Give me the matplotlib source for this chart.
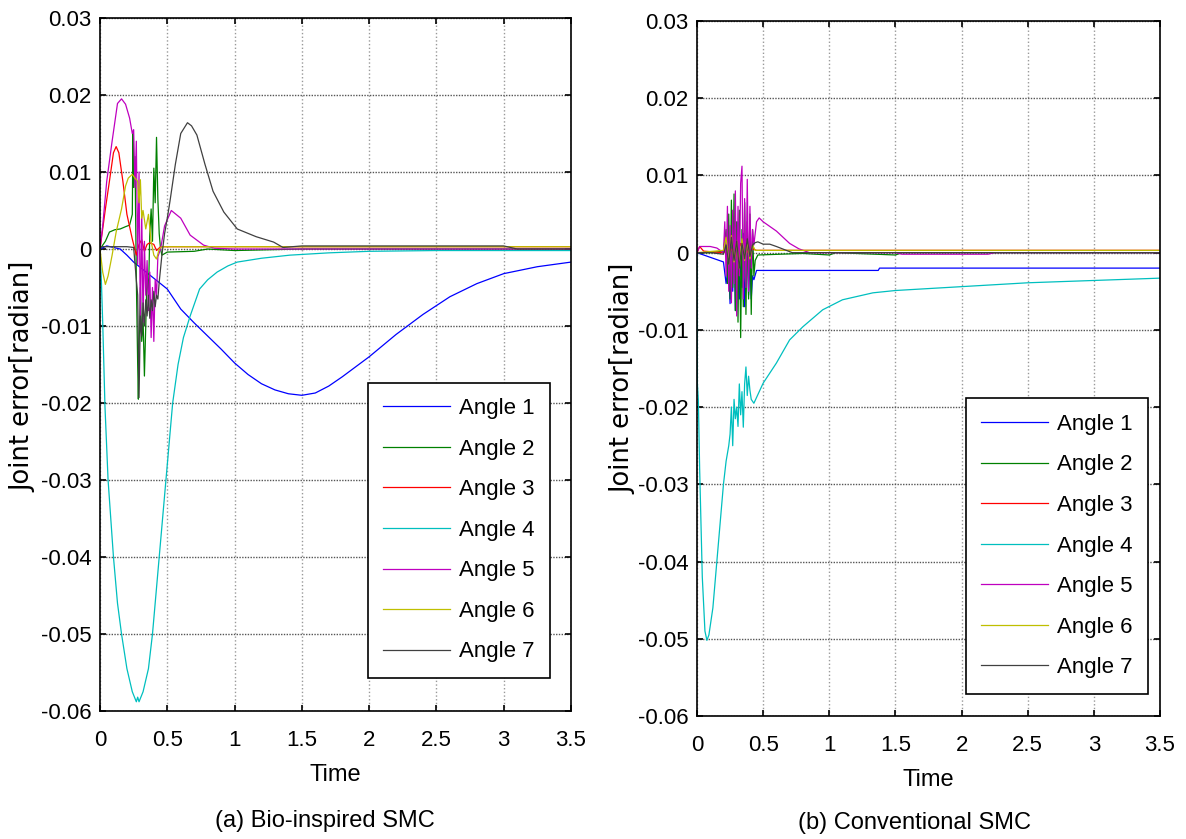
import matplotlib
matplotlib.use("Agg")
import matplotlib.pyplot as plt

plt.rcParams['font.family'] = ['Liberation Sans', 'DejaVu Sans']
plt.rcParams['axes.unicode_minus'] = False

labels = ['Angle 1', 'Angle 2', 'Angle 3', 'Angle 4', 'Angle 5', 'Angle 6', 'Angle 7']
colors = ['#0000ff', '#008000', '#ff0000', '#00bfbf', '#bf00bf', '#bfbf00', '#404040']

xticks = [0, 0.5, 1, 1.5, 2, 2.5, 3, 3.5]
xticklabels = ['0', '0.5', '1', '1.5', '2', '2.5', '3', '3.5']
yticks = [0.03, 0.02, 0.01, 0, -0.01, -0.02, -0.03, -0.04, -0.05, -0.06]
yticklabels = ['0.03', '0.02', '0.01', '0', '-0.01', '-0.02', '-0.03', '-0.04', '-0.05', '-0.06']

# ---- (a) Bio-inspired SMC ----
a1_t = [0, 0.05, 0.1, 0.15, 0.2, 0.25, 0.3, 0.4, 0.5, 0.6, 0.7, 0.8, 0.9, 1.0, 1.1, 1.2, 1.3, 1.4,
        1.5, 1.6, 1.7, 1.8, 1.9, 2.0, 2.2, 2.4, 2.6, 2.8, 3.0, 3.25, 3.5]
a1_v = [0, 0.0004, 0.0002, 0.0, -0.0008, -0.0017, -0.0024, -0.0038, -0.0052, -0.0078, -0.0096,
        -0.0113, -0.0130, -0.0148, -0.0163, -0.0175, -0.0183, -0.0188, -0.0190, -0.0187, -0.0178,
        -0.0166, -0.0153, -0.0140, -0.0111, -0.0085, -0.0062, -0.0045, -0.0032, -0.0023, -0.0017]

a2_t = [0, 0.04, 0.07, 0.11, 0.15, 0.19, 0.22, 0.24, 0.245, 0.25, 0.26, 0.27, 0.28, 0.285, 0.29,
        0.30, 0.31, 0.32, 0.33, 0.34, 0.35, 0.36, 0.37, 0.38, 0.39, 0.40, 0.41, 0.42, 0.43, 0.44,
        0.45, 0.46, 0.5, 0.7, 0.8, 1.0, 1.5, 2.0, 3.5]
a2_v = [0, 0.0010, 0.0022, 0.0025, 0.0026, 0.0029, 0.0031, 0.0045, 0.0153, 0.0080, 0.0120, -0.0040,
        -0.0150, -0.0195, -0.0130, -0.0050, -0.0120, -0.0090, -0.0165, -0.0100, -0.0030, -0.0060,
        0.0020, 0.0052, 0.0010, 0.0105, 0.0060, 0.0145, 0.0065, 0.0020, 0.0, -0.0008, -0.0004,
        -0.0003, 0.0, -0.0002, 0.0, 0.0, 0.0]

a3_t = [0, 0.01, 0.04, 0.07, 0.1, 0.12, 0.14, 0.17, 0.2, 0.24, 0.27, 0.29, 0.31, 0.33, 0.35, 0.37,
        0.4, 0.42, 0.45, 0.5, 1.0, 2.0, 3.5]
a3_v = [0, 0.0013, 0.0052, 0.0088, 0.0125, 0.0133, 0.0125, 0.0088, 0.0045, 0.0013, -0.0008, 0.0006,
        0.0012, -0.0003, 0.0006, 0.0008, 0.0006, -0.0002, 0.0003, 0.0003, 0.0003, 0.0003, 0.0003]

a4_t = [0, 0.01, 0.02, 0.037, 0.06, 0.1, 0.13, 0.16, 0.2, 0.24, 0.27, 0.28, 0.29, 0.32, 0.36, 0.39,
        0.44, 0.49, 0.54, 0.58, 0.62, 0.67, 0.74, 0.8, 0.87, 0.95, 1.02, 1.2, 1.41, 1.7, 2.0, 2.5,
        3.0, 3.5]
a4_v = [0, -0.004, -0.0095, -0.0205, -0.030, -0.040, -0.046, -0.050, -0.0545, -0.0575, -0.0588,
        -0.0582, -0.0588, -0.0575, -0.0545, -0.050, -0.040, -0.030, -0.020, -0.0150, -0.0115,
        -0.0087, -0.0052, -0.0040, -0.0030, -0.0022, -0.0017, -0.0012, -0.0008, -0.0005, -0.0003,
        -0.0002, -0.0002, -0.0002]

a5_t = [0, 0.02, 0.05, 0.09, 0.13, 0.16, 0.19, 0.22, 0.24, 0.25, 0.26, 0.27, 0.28, 0.29, 0.30,
        0.31, 0.32, 0.33, 0.34, 0.35, 0.36, 0.37, 0.38, 0.39, 0.40, 0.41, 0.42, 0.43, 0.45, 0.48,
        0.53, 0.6, 0.67, 0.77, 0.85, 1.0, 3.5]
a5_v = [0, 0.003, 0.0088, 0.014, 0.0189, 0.0195, 0.0188, 0.0170, 0.0150, 0.0155, 0.0080, 0.0140,
        -0.0020, 0.0100, -0.0105, 0.0050, -0.0095, 0.0010, -0.0060, -0.0015, -0.0080, -0.0030,
        -0.0115, -0.0050, -0.0120, -0.0040, -0.0060, -0.0010, 0.0, 0.0030, 0.0050, 0.0040,
        0.0018, 0.0005, 0.0001, 0.0, 0.0]

a6_t = [0, 0.02, 0.04, 0.06, 0.09, 0.12, 0.16, 0.19, 0.21, 0.24, 0.26, 0.28, 0.29, 0.30, 0.31,
        0.32, 0.34, 0.36, 0.38, 0.40, 0.42, 0.44, 0.46, 0.5, 3.5]
a6_v = [0, -0.003, -0.0046, -0.0035, -0.0008, 0.0022, 0.0052, 0.0082, 0.0092, 0.0097, 0.0092,
        0.0088, 0.0060, 0.0090, 0.0040, 0.0050, 0.0026, 0.0045, 0.0010, -0.0008, -0.0013, 0.0,
        0.0003, 0.0003, 0.0003]

a7_t = [0, 0.1, 0.2, 0.25, 0.27, 0.28, 0.29, 0.30, 0.31, 0.32, 0.33, 0.34, 0.35, 0.36, 0.37, 0.38,
        0.39, 0.40, 0.41, 0.42, 0.43, 0.44, 0.46, 0.48, 0.5, 0.52, 0.56, 0.6, 0.65, 0.68, 0.72,
        0.78, 0.84, 0.92, 1.02, 1.16, 1.29, 1.36, 1.5, 2.0, 2.5, 3.0, 3.1, 3.5]
a7_v = [0.0003, 0.0003, 0.0003, 0.0002, -0.0040, -0.0060, -0.0193, -0.0087, -0.0113, -0.0070,
        -0.0100, -0.0066, -0.0087, -0.0060, -0.0090, -0.0066, -0.0080, -0.0055, -0.0075, -0.0060,
        -0.0065, -0.0043, -0.0008, 0.0020, 0.0040, 0.0062, 0.0110, 0.0150, 0.0164, 0.0160, 0.0148,
        0.0110, 0.0075, 0.0048, 0.0026, 0.0016, 0.0009, 0.0002, 0.0004, 0.0004, 0.0004, 0.0004,
        0.0, 0.0]

# ---- (b) Conventional SMC ----
b1_t = [0, 0.05, 0.1, 0.15, 0.2, 0.22, 0.24, 0.25, 0.26, 0.27, 0.28, 0.29, 0.30, 0.31, 0.32, 0.33,
        0.34, 0.35, 0.36, 0.37, 0.38, 0.39, 0.40, 0.41, 0.42, 0.43, 0.45, 0.6, 1.0, 1.37, 1.38, 2.0,
        3.5]
b1_v = [0, -0.0003, -0.0006, -0.0009, -0.0012, -0.0040, -0.0015, -0.0066, 0.0010, -0.0050, 0.0030,
        -0.0075, -0.0010, 0.0040, -0.0060, 0.0000, -0.0045, 0.0025, -0.0070, -0.0020, 0.0015,
        -0.0055, -0.0010, -0.0060, -0.0030, -0.0035, -0.0023, -0.0023, -0.0023, -0.0023, -0.0020,
        -0.0020, -0.0020]

b2_t = [0, 0.1, 0.2, 0.22, 0.23, 0.24, 0.25, 0.26, 0.27, 0.28, 0.29, 0.30, 0.31, 0.32, 0.33, 0.34,
        0.35, 0.36, 0.37, 0.38, 0.39, 0.40, 0.41, 0.42, 0.43, 0.44, 0.46, 0.8, 1.0, 1.05, 1.5, 1.55,
        2.0, 3.5]
b2_v = [0, 0, 0.0002, 0.0030, -0.0040, 0.0050, -0.0060, 0.0068, -0.0045, 0.0076, -0.0075, 0.0040,
        -0.0090, 0.0055, -0.0110, 0.0030, -0.0070, 0.0065, -0.0080, 0.0040, -0.0060, 0.0050,
        -0.0080, 0.0030, -0.0030, -0.0010, -0.0003, -0.0001, -0.0003, 0.0, -0.0003, 0.0, 0.0, 0.0]

b3_t = [0, 0.02, 0.05, 0.2, 0.25, 0.3, 0.33, 0.36, 0.4, 0.45, 3.5]
b3_v = [0, 0.0008, 0.0002, 0.0, 0.0006, -0.0005, 0.0012, -0.0004, 0.0006, 0.0003, 0.0003]

b4_t = [0, 0.003, 0.01, 0.02, 0.04, 0.06, 0.075, 0.09, 0.12, 0.15, 0.18, 0.2, 0.22, 0.24, 0.25,
        0.26, 0.27, 0.28, 0.29, 0.30, 0.31, 0.32, 0.33, 0.34, 0.35, 0.36, 0.37, 0.38, 0.39, 0.40,
        0.41, 0.43, 0.5, 0.6, 0.7, 0.8, 0.95, 1.1, 1.33, 1.5, 2.0, 2.5, 3.0, 3.5]
b4_v = [0, -0.0170, -0.0190, -0.0280, -0.0420, -0.0490, -0.0502, -0.0495, -0.0460, -0.0400,
        -0.0340, -0.0300, -0.0270, -0.0250, -0.0235, -0.0200, -0.0250, -0.0190, -0.0215, -0.0200,
        -0.0225, -0.0170, -0.0210, -0.0180, -0.0226, -0.0170, -0.0148, -0.0185, -0.0160, -0.0178,
        -0.0190, -0.0195, -0.0169, -0.0143, -0.0113, -0.0096, -0.0074, -0.0061, -0.0052, -0.0049,
        -0.0044, -0.0039, -0.0036, -0.0033]

b5_t = [0, 0.02, 0.1, 0.15, 0.2, 0.21, 0.22, 0.23, 0.24, 0.25, 0.26, 0.27, 0.28, 0.29, 0.30, 0.31,
        0.32, 0.33, 0.34, 0.35, 0.36, 0.37, 0.38, 0.39, 0.40, 0.41, 0.42, 0.43, 0.45, 0.47, 0.5,
        0.6, 0.7, 0.77, 0.85, 1.5, 1.55, 2.2, 2.25, 3.5]
b5_v = [0, 0.0008, 0.0008, 0.0006, 0.0, 0.0040, -0.0030, 0.0060, -0.0050, 0.0035, -0.0065, 0.0055,
        -0.0040, 0.0080, -0.0082, 0.0060, -0.0030, 0.0090, 0.0112, -0.0060, 0.0070, -0.0045,
        0.0095, -0.0050, 0.0060, -0.0020, 0.0030, 0.0010, 0.0040, 0.0045, 0.0040, 0.0028, 0.0012,
        0.0005, 0.0, 0.0, -0.0002, -0.0002, 0.0, 0.0]

b6_t = [0, 0.2, 0.22, 0.24, 0.26, 0.28, 0.30, 0.32, 0.34, 0.36, 0.38, 0.40, 0.42, 0.44, 3.5]
b6_v = [0, 0.0003, 0.0020, -0.0015, 0.0022, -0.0012, 0.0015, -0.0020, 0.0018, -0.0010, 0.0015,
        -0.0008, 0.0010, 0.0003, 0.0003]

b7_t = [0, 0.1, 0.2, 0.22, 0.24, 0.26, 0.28, 0.30, 0.32, 0.34, 0.36, 0.38, 0.40, 0.42, 0.44, 0.46,
        0.5, 0.55, 0.6, 0.66, 0.72, 3.5]
b7_v = [0, 0, -0.0002, 0.0010, -0.0015, 0.0020, -0.0010, 0.0015, -0.0020, 0.0012, -0.0008,
        0.0018, -0.0005, 0.0010, 0.0013, 0.0014, 0.0011, 0.0011, 0.0008, 0.0004, 0.0, 0.0]

panel_a = [(a1_t, a1_v), (a2_t, a2_v), (a3_t, a3_v), (a4_t, a4_v), (a5_t, a5_v), (a6_t, a6_v), (a7_t, a7_v)]
panel_b = [(b1_t, b1_v), (b2_t, b2_v), (b3_t, b3_v), (b4_t, b4_v), (b5_t, b5_v), (b6_t, b6_v), (b7_t, b7_v)]

fig = plt.figure(figsize=(11.86, 8.39), dpi=100)
ax_a = fig.add_axes([100 / 1186, 1 - 711 / 839, 471 / 1186, 693 / 839])
ax_b = fig.add_axes([697 / 1186, 1 - 716 / 839, 463 / 1186, 695 / 839])


def draw(ax, series, legend_anchor, ylab_xy):
    for (t, v), c, lab in zip(series, colors, labels):
        ax.plot(t, v, color=c, lw=0.9, label=lab)
    ax.set_xlim(0, 3.5)
    ax.set_ylim(-0.06, 0.03)
    ax.set_xticks(xticks)
    ax.set_xticklabels(xticklabels)
    ax.set_yticks(yticks)
    ax.set_yticklabels(yticklabels)
    ax.tick_params(direction='in', top=True, right=True, length=4, width=1.2, labelsize=16)
    ax.tick_params(axis='x', pad=14)
    ax.tick_params(axis='y', pad=6)
    ax.xaxis.grid(True, color='#999999', linestyle=':', lw=1)
    ax.yaxis.grid(True, color='#555555', linestyle=(0, (1, 1)), lw=1)
    for s in ax.spines.values():
        s.set_linewidth(1.2)
    ax.set_xlabel('Time', fontsize=17, labelpad=9)
    ax.set_ylabel('Joint error[radian]', fontsize=18.5, family='DejaVu Sans')
    ax.yaxis.set_label_coords(*ylab_xy)
    leg = ax.legend(loc='lower right', bbox_to_anchor=legend_anchor, fontsize=16,
                    handlelength=3.0, handletextpad=0.4, labelspacing=0.88, borderpad=0.7,
                    borderaxespad=0, fancybox=False, framealpha=1, edgecolor='black')
    leg.get_frame().set_linewidth(1.2)


draw(ax_a, panel_a, (0.955, 0.0476), (-0.136, 0.482))
draw(ax_b, panel_b, (0.974, 0.032), (-0.132, 0.485))

fig.text(325 / 1186, 1 - 821 / 839, '(a) Bio-inspired SMC', ha='center', va='center', fontsize=17)
fig.text(915 / 1186, 1 - 823 / 839, '(b) Conventional SMC', ha='center', va='center', fontsize=17)

fig.savefig('out.png', dpi=100)
